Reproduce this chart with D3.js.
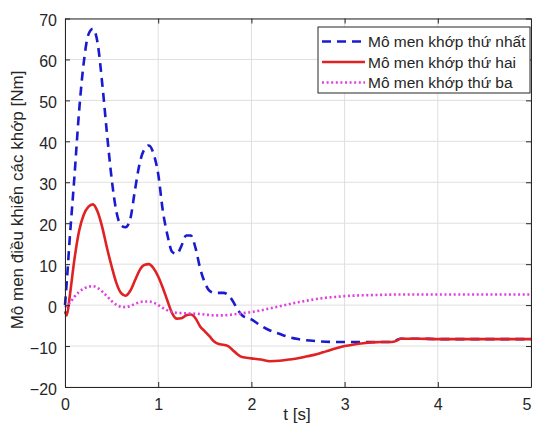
<!DOCTYPE html>
<html>
<head>
<meta charset="utf-8">
<script src="https://cdn.jsdelivr.net/npm/d3@7"></script>
<style>
  body { margin: 0; background: #fff; }
  svg { display: block; font-family: "Liberation Sans", Arial, sans-serif; }
</style>
</head>
<body>
<svg></svg>
<script>
// Data
var tBlue = [0, 0.02, 0.05, 0.1, 0.15, 0.2, 0.25, 0.3, 0.35, 0.4, 0.45, 0.5, 0.55, 0.6, 0.65, 0.7, 0.75, 0.8, 0.85, 0.9, 0.95, 1.0, 1.05, 1.1, 1.15, 1.2, 1.25, 1.3, 1.35, 1.4, 1.45, 1.5, 1.55, 1.6, 1.65, 1.7, 1.75, 1.8, 1.85, 1.9, 2.0, 2.1, 2.2, 2.3, 2.4, 2.5, 2.7, 2.9, 3.1, 3.3, 3.5, 3.55, 3.6, 3.8, 4.0, 4.5, 5.0];
var joint1 = [0, 6, 16, 31, 47, 59, 66, 67.5, 64, 54, 42, 31, 23, 19.5, 19, 21, 28, 34.5, 38, 39, 37, 32, 23, 17, 13, 12.5, 14.5, 17, 17, 14, 9, 5.5, 3.5, 3, 3, 3, 2.5, 1, -1, -2.5, -3.5, -5, -6.2, -7, -7.8, -8.3, -8.8, -9, -9, -9, -9, -8.6, -8.2, -8.2, -8.3, -8.3, -8.3];

var tRed = [0, 0.02, 0.05, 0.1, 0.15, 0.2, 0.25, 0.3, 0.35, 0.4, 0.45, 0.5, 0.55, 0.6, 0.65, 0.7, 0.75, 0.8, 0.85, 0.9, 0.95, 1.0, 1.05, 1.1, 1.15, 1.2, 1.25, 1.3, 1.35, 1.4, 1.45, 1.5, 1.55, 1.6, 1.65, 1.7, 1.75, 1.8, 1.85, 1.9, 2.0, 2.1, 2.2, 2.3, 2.4, 2.5, 2.6, 2.7, 2.8, 2.9, 3.0, 3.1, 3.2, 3.3, 3.4, 3.5, 3.55, 3.6, 3.8, 4.0, 4.5, 5.0];
var joint2 = [-1.5, -2.5, 2, 11, 18, 22, 24, 24.6, 22.8, 19, 14, 9.5, 5.5, 3, 2.3, 3.5, 6, 8.5, 9.8, 10, 9, 7, 4.2, 1, -2, -3.3, -3.2, -2.5, -2.3, -3.2, -5.2, -6.4, -7.6, -8.9, -9.5, -9.7, -10, -11, -12, -12.7, -13, -13.3, -13.7, -13.6, -13.3, -13, -12.5, -12, -11.3, -10.6, -10, -9.6, -9.3, -9.1, -9, -9, -8.8, -8.2, -8.2, -8.3, -8.3, -8.3];

var tMag = [0, 0.05, 0.1, 0.15, 0.2, 0.25, 0.3, 0.35, 0.4, 0.45, 0.5, 0.55, 0.6, 0.65, 0.7, 0.75, 0.8, 0.85, 0.9, 0.95, 1.0, 1.05, 1.1, 1.15, 1.2, 1.3, 1.4, 1.5, 1.6, 1.7, 1.8, 1.9, 2.0, 2.1, 2.2, 2.3, 2.4, 2.5, 2.6, 2.7, 2.8, 2.9, 3.0, 3.2, 3.4, 3.6, 4.0, 4.5, 5.0];
var joint3 = [-0.5, 0.5, 2, 3.2, 4, 4.5, 4.6, 4.2, 3.3, 2.2, 1, 0.1, -0.4, -0.5, -0.2, 0.3, 0.7, 0.9, 0.9, 0.6, 0, -0.7, -1.3, -1.7, -1.9, -2, -2.1, -2.3, -2.5, -2.5, -2.3, -2, -1.7, -1.3, -0.8, -0.3, 0.2, 0.7, 1.1, 1.5, 1.8, 2.0, 2.2, 2.4, 2.5, 2.6, 2.6, 2.6, 2.6];

var xTicks = [0, 1, 2, 3, 4, 5];
var yTicks = [-20, -10, 0, 10, 20, 30, 40, 50, 60, 70];
var seriesNames = ["Mô men khớp thứ nhất", "Mô men khớp thứ hai", "Mô men khớp thứ ba"];

var W = 534, H = 423;
var margin = {top: 18.5, right: 3, bottom: 36, left: 65},
    width = W - margin.left - margin.right,
    height = H - margin.top - margin.bottom;

var svg = d3.select("svg").attr("width", W).attr("height", H);
var g = svg.append("g").attr("transform", `translate(${margin.left},${margin.top})`);

var x = d3.scaleLinear().domain([0, 5]).range([0, width]);
var y = d3.scaleLinear().domain([-20, 70]).range([height, 0]);

var axisColor = "#262626";

// grid
xTicks.forEach(v => {
    g.append("line").attr("x1", x(v)).attr("x2", x(v)).attr("y1", 0).attr("y2", height)
        .attr("stroke", "#dfdfdf").attr("stroke-width", 1);
});
yTicks.forEach(v => {
    g.append("line").attr("x1", 0).attr("x2", width).attr("y1", y(v)).attr("y2", y(v))
        .attr("stroke", "#dfdfdf").attr("stroke-width", 1);
});

// series
var series = [
    {t: tBlue, v: joint1, color: "#1a1ad0", dash: "9,6", w: 2.6},
    {t: tRed, v: joint2, color: "#e02222", dash: null, w: 2.6},
    {t: tMag, v: joint3, color: "#e040e0", dash: "2,2.6", w: 2.6}
];

var line = d3.line()
    .x(d => x(d[0]))
    .y(d => y(d[1]))
    .curve(d3.curveMonotoneX);

series.forEach(s => {
    g.append("path")
        .datum(s.t.map((t, i) => [t, s.v[i]]))
        .attr("fill", "none")
        .attr("stroke", s.color)
        .attr("stroke-width", s.w)
        .attr("stroke-dasharray", s.dash)
        .attr("d", line);
});

// axes (MATLAB style: ticks inward, box on)
function styleAxis(sel) {
    sel.select(".domain").attr("stroke", axisColor);
    sel.selectAll(".tick line").attr("stroke", axisColor);
    sel.selectAll("text").attr("fill", axisColor).style("font-size", "16px");
}

var xAxis = g.append("g").attr("transform", `translate(0,${height})`)
    .call(d3.axisBottom(x).tickValues(xTicks).tickFormat(d3.format("d")).tickSize(-5).tickSizeOuter(0).tickPadding(12))
    .call(styleAxis);
// last label sits at the window edge; keep it inside
xAxis.selectAll(".tick text").filter(d => d === 5).attr("text-anchor", "end").attr("dx", "0");

g.append("g")
    .call(d3.axisLeft(y).tickValues(yTicks).tickFormat(d3.format("d")).tickSize(-5).tickSizeOuter(0).tickPadding(8))
    .call(styleAxis)
    .selectAll("text").attr("dy", "0.45em");
g.append("g")
    .call(d3.axisTop(x).tickValues(xTicks).tickFormat("").tickSize(-5).tickSizeOuter(0))
    .call(styleAxis);
g.append("g").attr("transform", `translate(${width},0)`)
    .call(d3.axisRight(y).tickValues(yTicks).tickFormat("").tickSize(-5).tickSizeOuter(0))
    .call(styleAxis);

// axis labels
svg.append("text")
    .attr("x", 297).attr("y", 420)
    .attr("text-anchor", "middle")
    .attr("fill", axisColor)
    .style("font-size", "17px")
    .text("t [s]");

svg.append("text")
    .attr("transform", "translate(23,200) rotate(-90)")
    .attr("text-anchor", "middle")
    .attr("fill", axisColor)
    .style("font-size", "17px")
    .text("Mô men điều khiển các khớp [Nm]");

// legend
var lg = svg.append("g").attr("transform", "translate(318,27)");
lg.append("rect").attr("width", 212).attr("height", 66)
    .attr("fill", "#fff").attr("stroke", "#262626").attr("stroke-width", 1);

seriesNames.forEach((name, i) => {
    var ly = 14.5 + i * 20.5;
    lg.append("line").attr("x1", 4).attr("x2", 47).attr("y1", ly).attr("y2", ly)
        .attr("stroke", series[i].color)
        .attr("stroke-width", series[i].w)
        .attr("stroke-dasharray", series[i].dash);
    lg.append("text").attr("x", 50).attr("y", ly).attr("dy", "0.36em")
        .attr("fill", "#262626")
        .style("font-size", "15.5px")
        .text(name);
});
</script>
</body>
</html>
